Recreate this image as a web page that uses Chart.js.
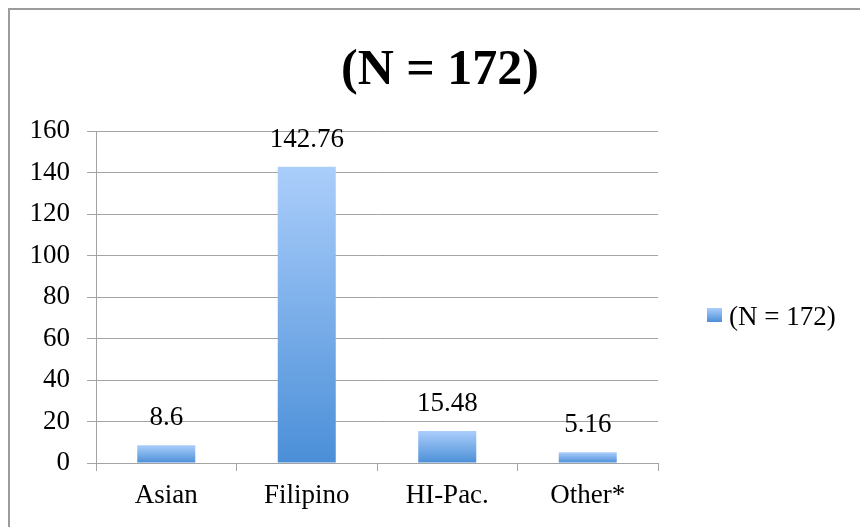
<!DOCTYPE html>
<html>
<head>
<meta charset="utf-8">
<script src="https://cdn.jsdelivr.net/npm/chart.js@4.4.0/dist/chart.umd.min.js"></script>
<style>
html, body { margin: 0; padding: 0; background: #fff; }
</style>
</head>
<body>
<canvas id="chart" width="860" height="527"></canvas>
<script>
// values
var categories = ['Asian', 'Filipino', 'HI-Pac.', 'Other*'];
var values = [8.6, 142.76, 15.48, 5.16];
var seriesName = '(N = 172)';
var titleText = '(N = 172)';
var yTicks = [0, 20, 40, 60, 80, 100, 120, 140, 160];

var serif = "'Liberation Serif', 'Times New Roman', serif";
var gridGray = '#a3a3a3';
var labelSize = 27;

function barGradient(c, top, bottom) {
    var g = c.createLinearGradient(0, top, 0, bottom);
    g.addColorStop(0, '#abcefb');
    g.addColorStop(1, '#4b8fd8');
    return g;
}

function barFill(ctx) {
    var chart = ctx.chart;
    var y = chart.scales.y;
    if (!chart.chartArea || !y || ctx.type !== 'data') return '#78afe9';
    var top = y.getPixelForValue(ctx.raw);
    var bottom = y.getPixelForValue(0);
    return barGradient(chart.ctx, top, bottom);
}

var decor = {
    id: 'decor',
    beforeDraw: function(chart) {
        var c = chart.ctx;
        c.save();
        // chart frame, only top and left edges show
        c.strokeStyle = '#9c9c9c';
        c.lineWidth = 2;
        c.beginPath();
        c.moveTo(860, 9);
        c.lineTo(9, 9);
        c.lineTo(9, 527);
        c.stroke();
        // title
        c.fillStyle = '#000';
        c.font = 'bold 50px ' + serif;
        c.textAlign = 'center';
        c.textBaseline = 'middle';
        c.fillText(titleText, 440, 71);
        c.restore();
    },
    afterDatasetsDraw: function(chart) {
        var c = chart.ctx;
        var meta = chart.getDatasetMeta(0);
        c.save();
        c.fillStyle = '#000';
        c.font = labelSize + 'px ' + serif;
        c.textAlign = 'center';
        c.textBaseline = 'alphabetic';
        meta.data.forEach(function(bar, i) {
            c.fillText(String(values[i]), bar.x, bar.y - 20);
        });
        c.restore();
    },
    afterDraw: function(chart) {
        // legend on the right
        var c = chart.ctx;
        c.save();
        c.fillStyle = barGradient(c, 308, 322);
        c.fillRect(707, 308, 15, 14);
        c.fillStyle = '#000';
        c.font = labelSize + 'px ' + serif;
        c.textAlign = 'left';
        c.textBaseline = 'middle';
        c.fillText(chart.data.datasets[0].label, 729, 318);
        c.restore();
    }
};

var ctx = document.getElementById('chart').getContext('2d');
var myBarChart = new Chart(ctx, {
    type: 'bar',
    data: {
        labels: categories,
        datasets: [{
            label: seriesName,
            data: values,
            backgroundColor: barFill,
            borderWidth: 0,
            barPercentage: 0.413,
            categoryPercentage: 1
        }]
    },
    options: {
        responsive: false,
        animation: false,
        devicePixelRatio: 1,
        layout: { padding: { top: 131, right: 202, left: 0, bottom: 0 } },
        plugins: {
            legend: { display: false },
            title: { display: false },
            tooltip: { enabled: false }
        },
        scales: {
            x: {
                grid: {
                    display: true,
                    offset: true,
                    drawOnChartArea: false,
                    drawTicks: true,
                    tickLength: 8,
                    color: gridGray
                },
                border: { color: gridGray, width: 1 },
                ticks: {
                    color: '#000',
                    font: { family: serif, size: labelSize },
                    padding: 9
                },
                afterFit: function(s) { s.height = 64; }
            },
            y: {
                min: yTicks[0],
                max: yTicks[yTicks.length - 1],
                afterBuildTicks: function(s) {
                    s.ticks = yTicks.map(function(v) { return { value: v }; });
                },
                grid: {
                    color: gridGray,
                    lineWidth: 1,
                    drawTicks: true,
                    tickLength: 9
                },
                border: { color: gridGray, width: 1 },
                ticks: {
                    color: '#000',
                    font: { family: serif, size: labelSize },
                    padding: 17
                },
                afterFit: function(s) { s.width = 96; }
            }
        }
    },
    plugins: [decor]
});
</script>
</body>
</html>
